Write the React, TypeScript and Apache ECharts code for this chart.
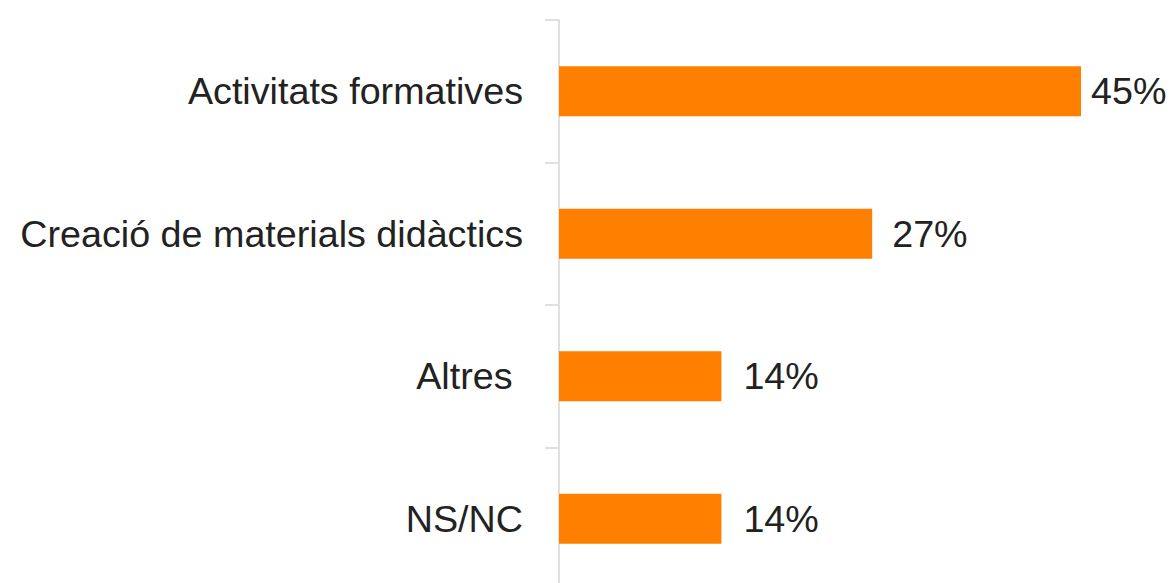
import React, { useEffect, useRef } from "react";
import * as echarts from "echarts";

const categories = [
  "Activitats formatives",
  "Creació de materials didàctics",
  "Altres ",
  "NS/NC",
];
const values = [45, 27, 14, 14];
const labelDistances = [10, 20, 22, 22];

export default function App() {
  const ref = useRef<HTMLDivElement>(null);
  useEffect(() => {
    document.body.style.margin = "0";
    document.body.style.overflow = "hidden";
    const chart = echarts.init(ref.current!, null, { renderer: "svg" });
    chart.setOption({
      animation: false,
      grid: { left: 559, top: 20, width: 580, height: 570, containLabel: false },
      xAxis: {
        type: "value",
        min: 0,
        max: 50,
        show: false,
      },
      yAxis: {
        type: "category",
        data: categories,
        inverse: true,
        axisLine: { show: true, lineStyle: { color: "#e0e0e0", width: 2 } },
        axisTick: { show: true, length: 14, lineStyle: { color: "#e0e0e0", width: 2 } },
        axisLabel: {
          margin: 36,
          color: "#222222",
          fontSize: 37.7,
          fontFamily: "Liberation Sans, Arial, sans-serif",
        },
        splitLine: { show: false },
      },
      series: [
        {
          type: "bar",
          barWidth: 50,
          data: values.map((v, i) => ({
            value: v,
            label: { distance: labelDistances[i] },
          })),
          itemStyle: { color: "#ff7f00" },
          label: {
            show: true,
            position: "right",
            formatter: "{c}%",
            color: "#222222",
            fontSize: 37.7,
            fontFamily: "Liberation Sans, Arial, sans-serif",
          },
        },
      ],
    });
    return () => chart.dispose();
  }, []);
  return <div ref={ref} style={{ width: 1172, height: 600 }} />;
}
